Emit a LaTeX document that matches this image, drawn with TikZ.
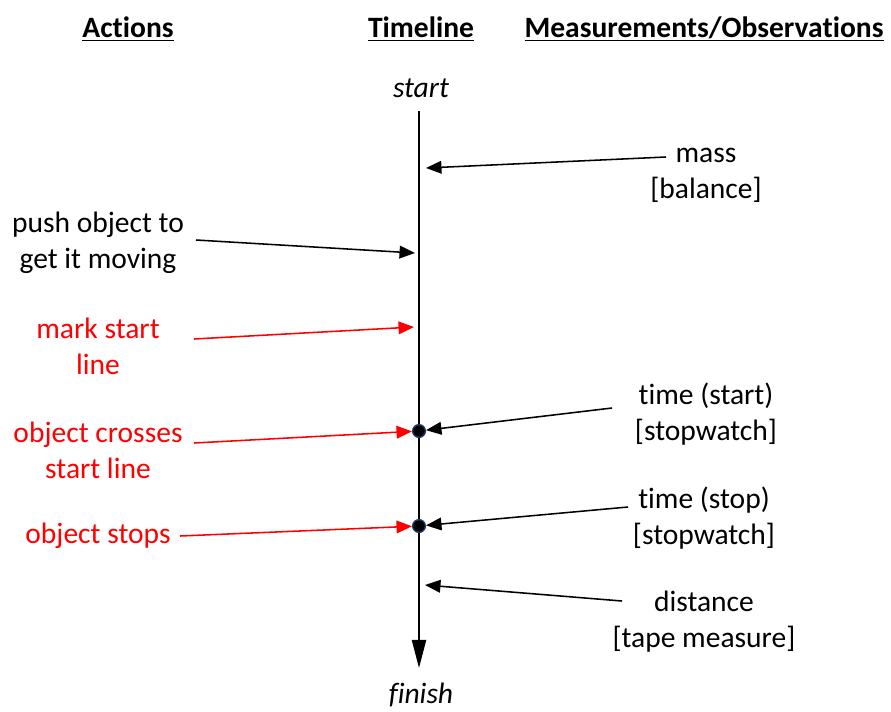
\documentclass[tikz,border=0pt]{standalone}
\usepackage{fontspec}
\setmainfont{Carlito}[Ligatures={NoCommon}]
\usepackage{tikz}
\usetikzlibrary{arrows.meta}
\usetikzlibrary{positioning}
\definecolor{dotblue}{RGB}{31,56,100}
\tikzstyle{arrow} = [line width=1.1pt,-{Triangle[length=11pt,width=9pt]}]
\tikzstyle{redarrow} = [arrow, red]
\tikzstyle{label} = [align=center, inner sep=0pt, font=\fontsize{21}{25.5}\selectfont]
\tikzstyle{header} = [label, font=\fontsize{21}{25.5}\selectfont\bfseries]
\tikzstyle{event} = [circle, fill=black, draw=dotblue, line width=1pt, minimum size=9pt, inner sep=0pt]

\begin{document}
\begin{tikzpicture}[x=0.025cm, y=-0.025cm]
\useasboundingbox (0,0) rectangle (891,711);

% column headers
\node (actions) [header] at (128,29) {\underline{Actions}};
\node (timeline) [header] at (421,29) {\underline{Timeline}};
\node (measure) [header] at (704,29) {\underline{Measurements/Observations}};

% timeline
\node (start) [label] at (421,88) {\textit{start}};
\node (finish) [label] at (421,695) {\textit{finish}};
\coordinate (top) at (419,111);
\coordinate (bottom) at (419,668);
\draw [line width=1.5pt,-{Triangle[length=20pt,width=10pt]}] (top) -- (bottom);

\coordinate (tmass) at (426,168);
\coordinate (tpush) at (415,253);
\coordinate (tmark) at (414,327);
\node (cross) [event] at (419,431) {};
\node (stop) [event] at (419,526) {};
\coordinate (tdist) at (425,585);

% actions
\node (push) [label] at (98,243) {push object to\\get it moving};
\node (mark) [label, red] at (98,346) {mark start\\line};
\node (crosses) [label, red] at (98,450) {object crosses\\start line};
\node (stops) [label, red] at (98,536) {object stops};

\coordinate (fpush) at (196,240);
\coordinate (fmark) at (194,339);
\coordinate (fcross) at (194,443);
\coordinate (fstop) at (180,536);
\draw [arrow] (fpush) -- (tpush);
\draw [redarrow] (fmark) -- (tmark);
\draw [redarrow] (fcross) -- (cross);
\draw [redarrow] (fstop) -- (stop);

% measurements
\node (mass) [label] at (706,175) {mass\\{[balance]}};
\node (tstart) [label] at (706,414) {time (start)\\{[stopwatch]}};
\node (tstop) [label] at (704,518) {time (stop)\\{[stopwatch]}};
\node (dist) [label] at (704,622) {distance\\{[tape measure]}};

\coordinate (fmass) at (666,157);
\coordinate (fstart) at (612,408);
\coordinate (fstop2) at (628,507);
\coordinate (fdist) at (622,601);
\draw [arrow] (fmass) -- (tmass);
\draw [arrow] (fstart) -- (cross);
\draw [arrow] (fstop2) -- (stop);
\draw [arrow] (fdist) -- (tdist);
\end{tikzpicture}
\end{document}
